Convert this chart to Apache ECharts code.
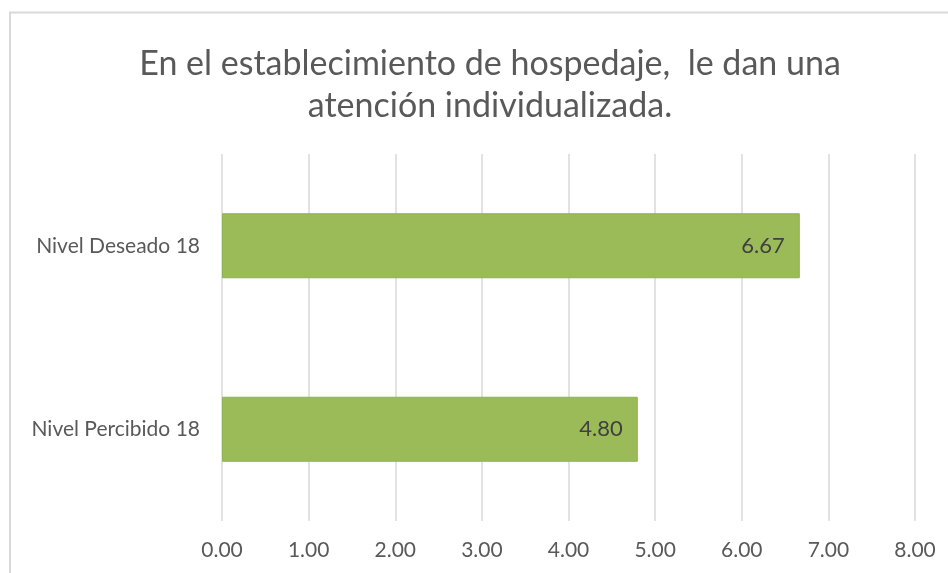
<!DOCTYPE html>
<html>
<head>
<meta charset="utf-8">
<script src="https://cdn.jsdelivr.net/npm/echarts@6/dist/echarts.min.js"></script>
<style>
html,body{margin:0;padding:0;background:#fff;}
#c{width:948px;height:573px;}
</style>
</head>
<body>
<div id="c"></div>
<script>
const titleLines = ['En el establecimiento de hospedaje,  le dan una', 'atención individualizada.'];
const categories = ['Nivel Deseado 18', 'Nivel Percibido 18'];
const values = [6.67, 4.80];
const axisMin = 0, axisMax = 8, axisStep = 1;

const FONT = 'Lato, "Open Sans", sans-serif';
const chart = echarts.init(document.getElementById('c'), null, {renderer: 'canvas'});
chart.setOption({
  backgroundColor: '#ffffff',
  animation: false,
  graphic: [{
    type: 'rect', silent: true, z: 100,
    shape: {x: 10, y: 12.5, width: 1200, height: 1000},
    style: {fill: 'none', stroke: '#d9d9d9', lineWidth: 2}
  }],
  title: {
    text: titleLines.join('\n'),
    left: 485, textAlign: 'center', top: 38,
    textStyle: {fontFamily: FONT, fontSize: 34, fontWeight: 'normal', color: '#595959', lineHeight: 42}
  },
  grid: {left: 222, right: 33, top: 154, bottom: 52, containLabel: false},
  xAxis: {
    type: 'value', min: axisMin, max: axisMax, interval: axisStep,
    axisLine: {show: false}, axisTick: {show: false},
    splitLine: {show: true, lineStyle: {color: '#d9d9d9', width: 1.5}},
    axisLabel: {margin: 19, fontFamily: FONT, fontSize: 21, color: '#595959',
      formatter: v => v.toFixed(2)}
  },
  yAxis: {
    type: 'category', data: categories, inverse: true,
    axisLine: {show: false}, axisTick: {show: false},
    axisLabel: {margin: 22, fontFamily: FONT, fontSize: 21, color: '#595959'}
  },
  series: [{
    type: 'bar', data: values, barWidth: 65,
    itemStyle: {color: '#9bbb59', borderColor: '#8fb150', borderWidth: 1},
    label: {show: true, position: 'insideRight', distance: 15,
      fontFamily: FONT, fontSize: 22, color: '#404040',
      formatter: p => p.value.toFixed(2)}
  }]
});
</script>
</body>
</html>
